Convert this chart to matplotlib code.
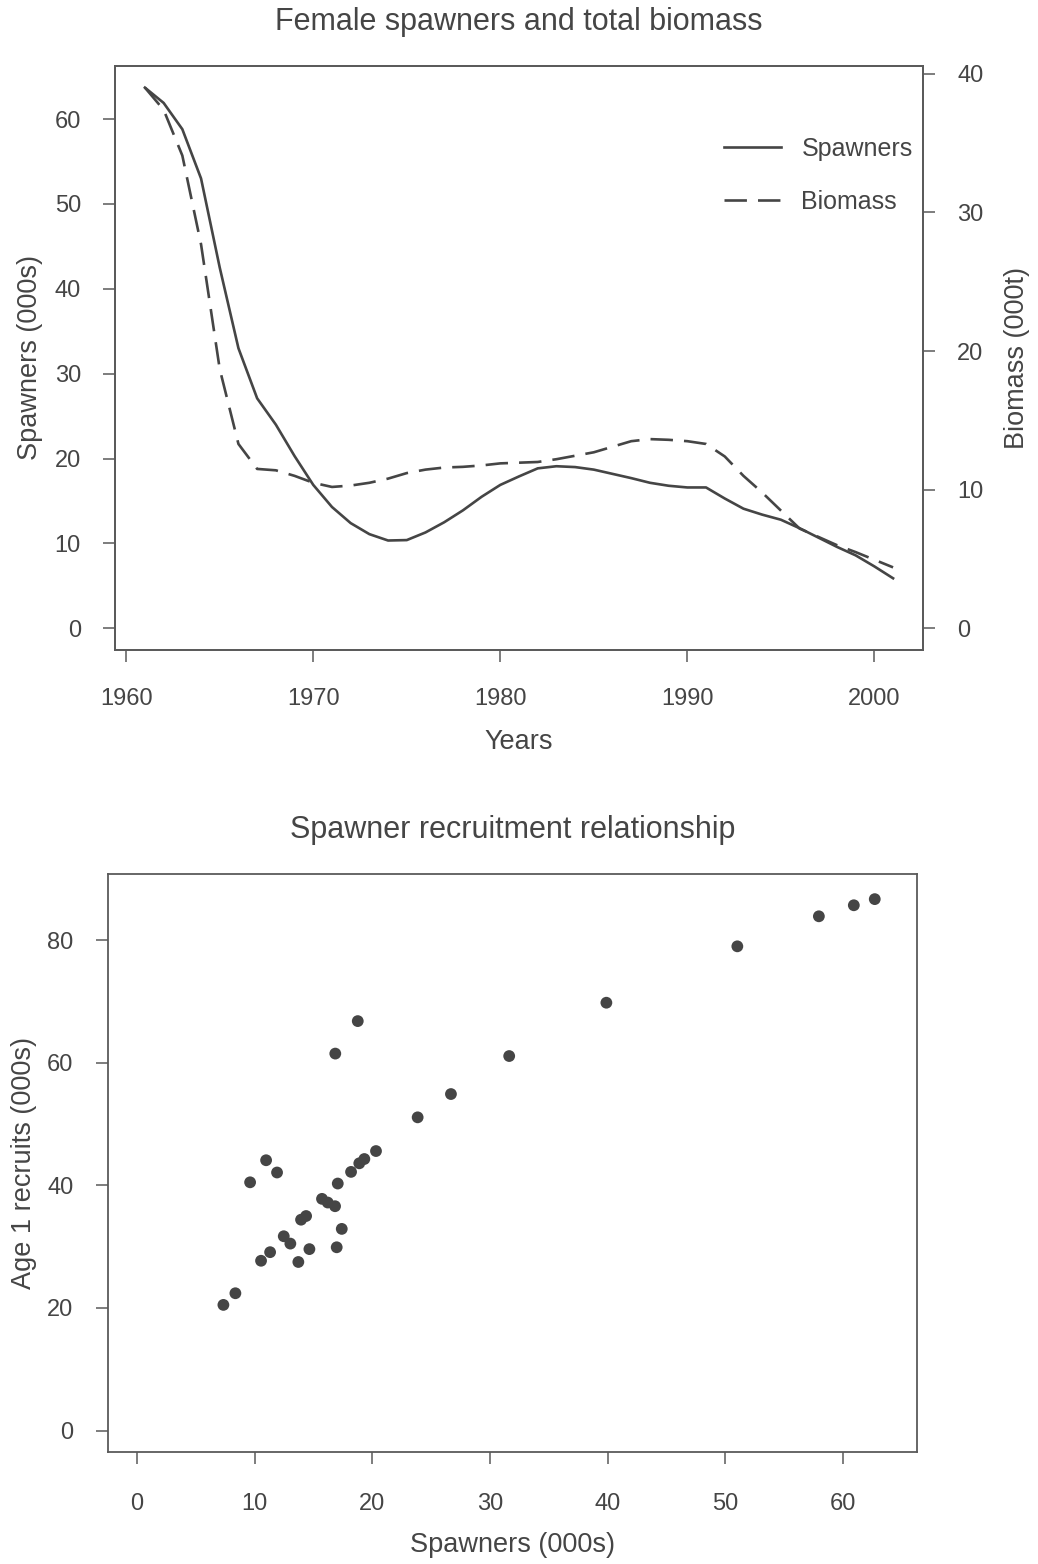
import matplotlib
matplotlib.use("Agg")
import matplotlib.pyplot as plt
from matplotlib.lines import Line2D

# Annual series, 1961-2001
years = list(range(1961, 2002))
spawners = [63.7, 61.9, 58.8, 53.0, 42.5, 33.0, 27.1, 24.0, 20.3, 16.9,
            14.3, 12.4, 11.1, 10.35, 10.4, 11.3, 12.5, 13.9, 15.5, 16.9,
            17.9, 18.85, 19.1, 19.0, 18.7, 18.2, 17.7, 17.15, 16.8, 16.6,
            16.6, 15.3, 14.1, 13.4, 12.8, 11.8, 10.7, 9.6, 8.6, 7.3, 5.9]
biomass = [39.0, 37.4, 34.1, 27.7, 18.7, 13.3, 11.5, 11.4, 11.0, 10.5,
           10.2, 10.3, 10.5, 10.8, 11.2, 11.45, 11.6, 11.65, 11.75, 11.9,
           11.95, 12.0, 12.2, 12.45, 12.7, 13.1, 13.5, 13.65, 13.6, 13.5,
           13.3, 12.4, 11.0, 9.8, 8.5, 7.2, 6.6, 6.0, 5.5, 4.95, 4.4]

# Spawner / recruit pairs
sr_spawners = [7.35, 8.37, 9.62, 10.55, 10.98, 11.32, 11.91, 12.48, 13.04, 13.72,
               13.95, 14.38, 14.66, 15.73, 16.22, 16.84, 16.86, 16.98, 17.07, 17.41,
               18.2, 18.77, 18.9, 19.33, 20.32, 23.86, 26.69, 31.64, 39.9, 51.03,
               57.96, 60.93, 62.71]
sr_recruits = [20.5, 22.4, 40.5, 27.7, 44.1, 29.1, 42.1, 31.7, 30.5, 27.5,
               34.4, 35.0, 29.6, 37.8, 37.2, 36.6, 61.5, 29.9, 40.3, 32.9,
               42.2, 66.8, 43.6, 44.3, 45.6, 51.1, 54.9, 61.1, 69.8, 79.0,
               83.9, 85.7, 86.7]

year_ticks = [1960, 1970, 1980, 1990, 2000]
spawner_ticks = [0, 10, 20, 30, 40, 50, 60]
biomass_ticks = [0, 10, 20, 30, 40]
sr_x_ticks = [0, 10, 20, 30, 40, 50, 60]
sr_y_ticks = [0, 20, 40, 60, 80]

plt.rcParams["font.family"] = ["Liberation Sans", "DejaVu Sans"]

INK = "#454545"
TEXT = "#454545"
FRAME = "#5a5a5a"
TICK_FS = 17
LABEL_FS = 19.5
TITLE_FS = 22
DASH = (0, (8.5, 4.2))

fig = plt.figure(figsize=(10.38, 15.64), dpi=100)
fig.patch.set_facecolor("white")


def style_axes(ax):
    for sp in ax.spines.values():
        sp.set_color(FRAME)
        sp.set_linewidth(1.3)
    ax.tick_params(direction="out", length=8.5, width=1.1, color=FRAME,
                   labelcolor=TEXT, labelsize=TICK_FS, pad=16)


# ---- Top panel: spawners and biomass time series ----
ax1 = fig.add_axes([115 / 1038, 1 - 650 / 1564, 808 / 1038, 584 / 1564])
ax2 = ax1.twinx()

ax1.plot(years, spawners, color=INK, lw=1.9, solid_joinstyle="round")
ax2.plot(years, biomass, color=INK, lw=1.9, linestyle=DASH)

ax1.set_xlim(1959.4, 2002.6)
s_max = max(spawners)
b_max = max(biomass)
ax1.set_ylim(-0.04 * s_max, 1.04 * s_max)
ax2.set_ylim(-0.04 * b_max, 1.04 * b_max)

ax1.set_xticks(year_ticks)
ax1.set_yticks(spawner_ticks)
ax2.set_yticks(biomass_ticks)
style_axes(ax1)
style_axes(ax2)
ax1.tick_params(axis="x", pad=19)

ax1.set_title("Female spawners and total biomass", fontsize=TITLE_FS,
              color=TEXT, y=1.075, va="center", pad=0)
ax1.set_xlabel("Years", fontsize=LABEL_FS, color=TEXT, va="center")
ax1.xaxis.set_label_coords(0.5, -0.158)
ax1.set_ylabel("Spawners (000s)", fontsize=LABEL_FS, color=TEXT, va="center")
ax1.yaxis.set_label_coords(-0.105, 0.5)
ax2.set_ylabel("Biomass (000t)", fontsize=LABEL_FS, color=TEXT, va="center",
               rotation=90)
ax2.yaxis.set_label_coords(1.116, 0.5)

handles = [Line2D([], [], color=INK, lw=1.9),
           Line2D([], [], color=INK, lw=1.9, linestyle=DASH)]
leg = ax2.legend(handles, ["Spawners", "Biomass"], loc="center left",
                 bbox_to_anchor=(0.7537, 0.813), frameon=False,
                 fontsize=18, handlelength=2.3, handletextpad=0.8,
                 labelspacing=1.17, borderpad=0, borderaxespad=0)
for t in leg.get_texts():
    t.set_color(TEXT)

# ---- Bottom panel: spawner-recruitment scatter ----
ax3 = fig.add_axes([107.5 / 1038, 1 - 1452 / 1564, 809.5 / 1038, 578 / 1564])
ax3.scatter(sr_spawners, sr_recruits, s=72, color=INK, edgecolors="none",
            zorder=3)
ax3.set_xlim(-2.5, 66.3)
ax3.set_ylim(-3.5, 90.8)
ax3.set_xticks(sr_x_ticks)
ax3.set_yticks(sr_y_ticks)
style_axes(ax3)
ax3.tick_params(axis="x", pad=21)
ax3.set_title("Spawner recruitment relationship", fontsize=TITLE_FS,
              color=TEXT, y=1.076, va="center", pad=0)
ax3.set_xlabel("Spawners (000s)", fontsize=LABEL_FS, color=TEXT, va="center")
ax3.xaxis.set_label_coords(0.5, -0.161)
ax3.set_ylabel("Age 1 recruits (000s)", fontsize=LABEL_FS, color=TEXT,
               va="center")
ax3.yaxis.set_label_coords(-0.103, 0.5)

fig.savefig("out.png", dpi=100, facecolor="white")
